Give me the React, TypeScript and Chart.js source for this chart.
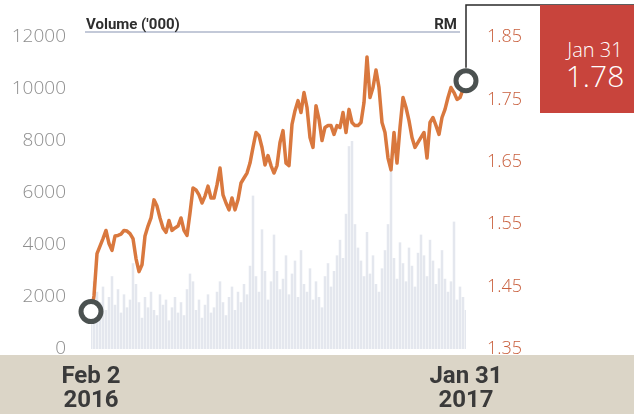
import React, { useEffect, useRef } from "react";
import { Chart, registerables } from "chart.js";

Chart.register(...registerables);

// Share price, RM (Feb 2 2016 -> Jan 31 2017)
const priceRM = [
  1.410, 1.435, 1.503, 1.515, 1.527, 1.540, 1.519, 1.508, 1.531, 1.532,
  1.534, 1.540, 1.539, 1.535, 1.527, 1.495, 1.474, 1.485, 1.531, 1.547,
  1.560, 1.589, 1.579, 1.560, 1.544, 1.537, 1.556, 1.540, 1.544, 1.547,
  1.560, 1.540, 1.532, 1.568, 1.608, 1.605, 1.597, 1.584, 1.595, 1.611,
  1.592, 1.592, 1.613, 1.640, 1.597, 1.584, 1.573, 1.592, 1.573, 1.589,
  1.616, 1.624, 1.632, 1.648, 1.673, 1.697, 1.692, 1.673, 1.645, 1.660,
  1.644, 1.632, 1.644, 1.681, 1.700, 1.648, 1.644, 1.710, 1.732, 1.748,
  1.729, 1.761, 1.737, 1.689, 1.673, 1.740, 1.718, 1.684, 1.705, 1.708,
  1.708, 1.694, 1.708, 1.705, 1.729, 1.697, 1.734, 1.713, 1.708, 1.708,
  1.713, 1.745, 1.818, 1.753, 1.769, 1.797, 1.769, 1.713, 1.697, 1.656,
  1.637, 1.697, 1.648, 1.705, 1.753, 1.737, 1.716, 1.689, 1.673, 1.681,
  1.689, 1.697, 1.656, 1.713, 1.721, 1.708, 1.694, 1.721, 1.734, 1.753,
  1.769, 1.761, 1.750, 1.753, 1.766, 1.780,
];

// Volume ('000)
const volume000 = [
  1200, 2600, 2200, 1800, 2400, 1500, 2000, 2800, 1700, 2300,
  1400, 2100, 1600, 1900, 3300, 2500, 1800, 1200, 2000, 1600,
  2200, 1500, 1300, 2100, 1700, 1900, 1100, 1600, 2000, 1400,
  1800, 1300, 2300, 2900, 2600, 1500, 1900, 1200, 1700, 2100,
  1400, 1600, 2200, 2600, 1800, 1300, 2000, 2400, 1500, 2200,
  1800, 2500, 2100, 3200, 5900, 2800, 2200, 4600, 3000, 1900,
  2600, 4400, 3000, 2300, 2700, 3600, 2100, 2900, 3400, 2000,
  3800, 2500, 2200, 3100, 1900, 2600, 2000, 1600, 2800, 3300,
  2400, 3000, 3600, 4200, 3500, 5200, 7800, 8000, 4800, 3900,
  3400, 2800, 4500, 2900, 3600, 2500, 2200, 3100, 3800, 4800,
  7000, 3500, 2700, 4100, 3300, 2600, 3900, 3200, 2400, 3700,
  4400, 3600, 2800, 4200, 3400, 2500, 3100, 3800, 2700, 2200,
  2600, 4900, 1900, 2400, 2000, 1500,
];

const startLabel = ["Feb 2", "2016"];
const endLabel = ["Jan 31", "2017"];
const volumeTicks = [0, 2000, 4000, 6000, 8000, 10000, 12000];
const priceTicks = [1.35, 1.45, 1.55, 1.65, 1.75, 1.85];
const lastDate = "Jan 31";
const lastPrice = "1.78";
const volumeTitle = "Volume ('000)";
const priceTitle = "RM";

const decorPlugin = {
  id: "decor",
  afterDatasetsDraw(chart: any) {
    const { ctx, chartArea } = chart;
    const y = chartArea.top - 5;
    ctx.save();
    ctx.strokeStyle = "#c3c9d8";
    ctx.lineWidth = 2;
    ctx.beginPath();
    ctx.moveTo(chartArea.left - 6, y);
    ctx.lineTo(chartArea.right - 6, y);
    ctx.stroke();
    ctx.fillStyle = "#2e2e2e";
    ctx.font = "bold 15px Roboto, sans-serif";
    ctx.textBaseline = "alphabetic";
    ctx.textAlign = "left";
    ctx.fillText(volumeTitle, chartArea.left - 5, y - 3);
    ctx.textAlign = "right";
    ctx.fillText(priceTitle, chartArea.right - 9, y - 3);
    const meta = chart.getDatasetMeta(0);
    const pt = meta.data[meta.data.length - 1];
    if (pt) {
      ctx.strokeStyle = "#2a2a2a";
      ctx.lineWidth = 1.5;
      ctx.beginPath();
      ctx.moveTo(pt.x, pt.y - 13);
      ctx.lineTo(pt.x, 5);
      ctx.lineTo(chart.width, 5);
      ctx.stroke();
    }
    ctx.restore();
  },
};

export default function App() {
  const ref = useRef<HTMLCanvasElement>(null);

  useEffect(() => {
    if (!ref.current) return;
    const n = priceRM.length;
    const labels = priceRM.map((_, i) =>
      i === 0 ? startLabel : i === n - 1 ? endLabel : ""
    );
    const chart = new Chart(ref.current, {
      type: "line",
      data: {
        labels,
        datasets: [
          {
            type: "line",
            data: priceRM,
            yAxisID: "price",
            borderColor: "#d9783e",
            borderWidth: 3.5,
            borderJoinStyle: "round",
            tension: 0,
            order: 0,
            pointRadius: (c: any) =>
              c.dataIndex === 0 || c.dataIndex === n - 1 ? 10 : 0,
            pointHoverRadius: (c: any) =>
              c.dataIndex === 0 || c.dataIndex === n - 1 ? 10 : 0,
            pointBorderWidth: 5,
            pointBorderColor: "#4b5150",
            pointBackgroundColor: "#ffffff",
          } as any,
          {
            type: "bar",
            data: volume000,
            yAxisID: "vol",
            backgroundColor: "rgba(205,211,224,0.55)",
            barPercentage: 0.85,
            categoryPercentage: 1,
            order: 1,
          } as any,
        ],
      },
      options: {
        responsive: false,
        animation: false,
        layout: { padding: { top: 37, left: 0, right: 0, bottom: 0 } },
        plugins: { legend: { display: false }, tooltip: { enabled: false } },
        scales: {
          x: {
            type: "category",
            offset: false,
            grid: { display: false },
            border: { display: false },
            ticks: {
              autoSkip: false,
              maxRotation: 0,
              minRotation: 0,
              padding: 8,
              color: "#3a3a3a",
              font: { family: "Roboto, sans-serif", size: 24, weight: "bold", lineHeight: 1.0 },
            },
            afterFit: (s: any) => {
              s.height = 65;
            },
          },
          vol: {
            type: "linear",
            position: "left",
            min: 0,
            max: 12000,
            grid: { display: false },
            border: { display: false },
            afterBuildTicks: (s: any) => {
              s.ticks = volumeTicks.map((v) => ({ value: v }));
            },
            ticks: {
              padding: 17,
              color: "#8e8e8e",
              font: { family: "'Open Sans', sans-serif", size: 19, weight: "300" },
              callback: (v: any) => String(v),
            },
            afterFit: (s: any) => {
              s.width = 91;
            },
          },
          price: {
            type: "linear",
            position: "right",
            min: 1.35,
            max: 1.85,
            grid: { display: false },
            border: { display: false },
            afterBuildTicks: (s: any) => {
              s.ticks = priceTicks.map((v) => ({ value: v }));
            },
            ticks: {
              padding: 13,
              color: "#c9603e",
              font: { family: "'Open Sans', sans-serif", size: 18, weight: "300" },
              callback: (v: any) => Number(v).toFixed(2),
            },
            afterFit: (s: any) => {
              s.width = 168;
            },
          },
        },
      } as any,
      plugins: [decorPlugin],
    });
    return () => chart.destroy();
  }, []);

  return (
    <div
      style={{
        position: "relative",
        width: 634,
        height: 414,
        overflow: "hidden",
        background: "#ffffff",
      }}
    >
      <style>{`body{margin:0}`}</style>
      <div
        style={{
          position: "absolute",
          left: 0,
          top: 355,
          width: 634,
          height: 59,
          background: "#dbd5c7",
        }}
      />
      <canvas
        ref={ref}
        width={634}
        height={414}
        style={{ position: "absolute", left: 0, top: 0, width: 634, height: 414 }}
      />
      <div
        style={{
          position: "absolute",
          left: 540,
          top: 5,
          width: 110,
          height: 108,
          background: "#c8443c",
          color: "#ffffff",
          textAlign: "center",
          fontFamily: "'Open Sans', sans-serif",
          fontWeight: 300,
        }}
      >
        <div
          style={{
            position: "absolute",
            top: 33,
            left: 0,
            width: "100%",
            fontSize: 20,
            lineHeight: "24px",
          }}
        >
          {lastDate}
        </div>
        <div
          style={{
            position: "absolute",
            top: 52,
            left: 0,
            width: "100%",
            fontSize: 30,
            lineHeight: "38px",
          }}
        >
          {lastPrice}
        </div>
      </div>
    </div>
  );
}
